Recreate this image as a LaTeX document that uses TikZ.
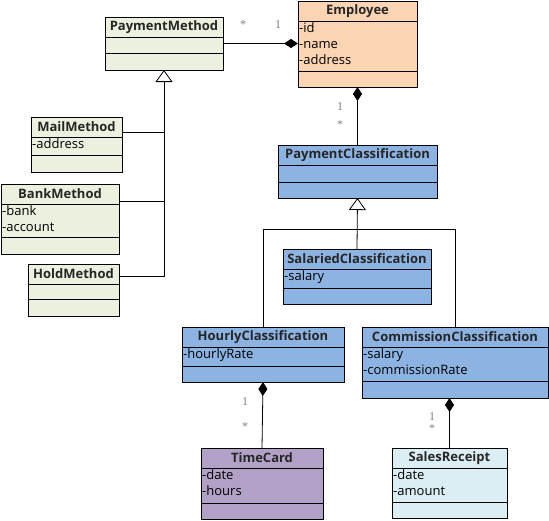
\documentclass[tikz,border=0pt]{standalone}
\usepackage{fontspec}
\setmainfont{Open Sans}
\newfontfamily\multfont{Liberation Serif}
\usetikzlibrary{arrows.meta,calc}
\definecolor{pmfill}{HTML}{EBF1DE}
\definecolor{empfill}{HTML}{FBD4B4}
\definecolor{clsblue}{HTML}{8DB3E2}
\definecolor{tcfill}{HTML}{B2A1C7}
\definecolor{srfill}{HTML}{DBEEF3}
\tikzset{
 clsbox/.style={draw=black, line width=0.8pt, inner sep=0pt, outer sep=0pt},
 clstitle/.style={font=\fontsize{13}{14}\selectfont\bfseries, text=black!85, inner sep=0pt},
 clsattr/.style={font=\fontsize{13}{16}\selectfont, align=left, inner sep=1pt},
 divider/.style={line width=0.8pt},
 conn/.style={line width=0.8pt},
 comp/.style={conn, {Diamond[length=14pt,width=9pt]}-},
 inherit/.style={conn, -{Triangle[open,length=12pt,width=17pt,fill=white]}},
 mult/.style={font=\multfont\fontsize{12}{12}\selectfont, text=black!50, inner sep=0pt},
}
% #1 fill, #2 name, #3 L, #4 T, #5 R, #6 B, #7 second divider, #8 title, #9 attributes
\newcommand\umlclass[9][white]{%
 \node[clsbox, fill=#1, anchor=north west, minimum width={(#5-#3)*1pt}, minimum height={(#6-#4)*1pt}] (#2) at (#3,#4) {};
 \draw[divider] ([yshift=-20pt]#2.north west) -- ([yshift=-20pt]#2.north east);
 \draw[divider] (#2.west |- 0,#7) -- (#2.east |- 0,#7);
 \node[clstitle] (#2-t) at ([yshift=-10pt]#2.north) {#8};
 \node[clsattr, anchor=north west] (#2-a) at ([yshift=-20pt]#2.north west) {#9};
}
\begin{document}
\begin{tikzpicture}[x=1pt,y=-1pt]
\useasboundingbox (0,0) rectangle (549,520);
\umlclass[pmfill]{pm}{105}{17}{223}{70}{53}{PaymentMethod}{}
\umlclass[empfill]{emp}{298}{1}{417}{87}{71}{Employee}{-id\\-name\\-address}
\umlclass[pmfill]{mm}{31}{117}{122}{172}{155}{MailMethod}{-address}
\umlclass[pmfill]{bm}{1}{184}{119}{254}{237}{BankMethod}{-bank\\-account}
\umlclass[pmfill]{hm}{28}{264}{119}{316}{299}{HoldMethod}{}
\umlclass[clsblue]{pc}{278}{145}{437}{198}{182}{PaymentClassification}{}
\umlclass[clsblue]{sc}{283}{249}{431}{304}{288}{SalariedClassification}{-salary}
\umlclass[clsblue]{hc}{182}{327}{344}{382}{366}{HourlyClassification}{-hourlyRate}
\umlclass[clsblue]{cc}{362}{327}{548}{398}{381}{CommissionClassification}{-salary\\-commissionRate}
\umlclass[tcfill]{tc}{201}{448}{323}{519}{503}{TimeCard}{-date\\-hours}
\umlclass[srfill]{sr}{392}{448}{507}{518}{502}{SalesReceipt}{-date\\-amount}

\coordinate (bar) at (0,229);
\coordinate (mmy) at (0,132);
\coordinate (bmy) at (0,201);
\coordinate (hmy) at (0,276);

\draw[comp] (emp.west |- pm.east) -- (pm.east);
\draw[comp] (emp.south) -- (pc.north);
\draw[inherit] (sc.north) -- (pc.south);
\draw[conn] (hc.north) -- (hc.north |- bar) -- (cc.north |- bar) -- (cc.north);
\draw[inherit] (hm.east |- hmy) -| (pm.south);
\draw[conn] (mm.east |- mmy) -- (pm.south |- mmy);
\draw[conn] (bm.east |- bmy) -- (pm.south |- bmy);
\draw[comp] (hc.south) -- (tc.north);
\draw[comp] (cc.south -| sr.north) -- (sr.north);

\node[mult] (m1) at (243,25) {*};
\node[mult] (m2) at (278,25) {1};
\node[mult] (m3) at (340,107) {1};
\node[mult] (m4) at (340,125) {*};
\node[mult] (m5) at (245,402) {1};
\node[mult] (m6) at (245,427) {*};
\node[mult] (m7) at (432,417) {1};
\node[mult] (m8) at (432,429) {*};
\end{tikzpicture}
\end{document}
